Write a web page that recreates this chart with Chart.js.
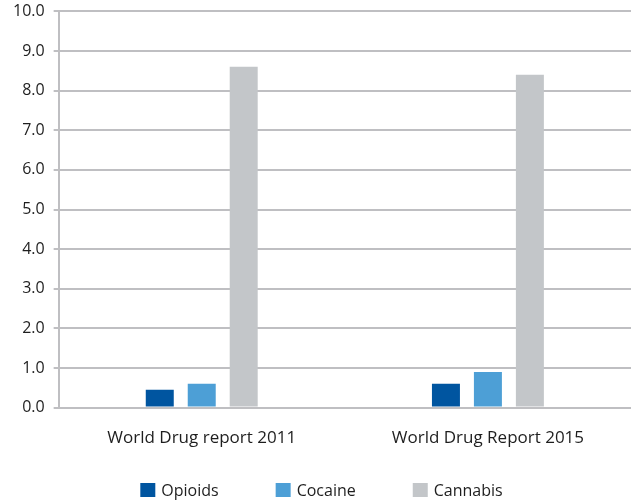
<!DOCTYPE html>
<html>
<head>
<meta charset="utf-8">
<script src="https://cdn.jsdelivr.net/npm/chart.js@4/dist/chart.umd.min.js"></script>
<style>
  html, body { margin: 0; padding: 0; background: #ffffff; }
  #wrap { width: 631px; height: 501px; position: relative; }
</style>
</head>
<body>
<div id="wrap"><canvas id="c"></canvas></div>
<script>
// Reports compared
const categories = ['World Drug report 2011', 'World Drug Report 2015'];

// Values per drug type
const opioids  = [0.45, 0.6];
const cocaine  = [0.6, 0.9];
const cannabis = [8.6, 8.4];

// Y axis range and step
const yMin = 0;
const yMax = 10;
const yStep = 1;

const gridColor = '#bfbfc2';
const textColor = '#1e1e1e';
const fontFamily = '"Open Sans", sans-serif';

// Bottom legend: square swatch + label, items spread apart with wide gaps
const legendRow = {
  id: 'legendRow',
  afterDraw(chart) {
    const ctx = chart.ctx;
    const box = 15, boxH = 14, textGap = 6, itemGap = 57;
    const cy = 490;
    ctx.save();
    ctx.font = '16px ' + fontFamily;
    ctx.textBaseline = 'middle';
    ctx.textAlign = 'left';
    const items = chart.data.datasets.map(ds => ({
      label: ds.label, color: ds.backgroundColor,
      w: box + textGap + ctx.measureText(ds.label).width
    }));
    const total = items.reduce((s, it) => s + it.w, 0) + itemGap * (items.length - 1);
    let x = chart.width / 2 + 6 - total / 2;
    items.forEach(it => {
      ctx.fillStyle = it.color;
      ctx.fillRect(x, cy - boxH / 2, box, boxH);
      ctx.fillStyle = textColor;
      ctx.fillText(it.label, x + box + textGap, cy + 1);
      x += it.w + itemGap;
    });
    ctx.restore();
  }
};

new Chart(document.getElementById('c'), {
  type: 'bar',
  data: {
    labels: categories,
    datasets: [
      { label: 'Opioids',  data: opioids,  backgroundColor: '#0055a0' },
      { label: 'Cocaine',  data: cocaine,  backgroundColor: '#4d9fd6' },
      { label: 'Cannabis', data: cannabis, backgroundColor: '#c3c6c9' }
    ]
  },
  plugins: [legendRow],
  options: {
    responsive: true,
    maintainAspectRatio: false,
    animation: false,
    datasets: { bar: { categoryPercentage: 0.44, barPercentage: 0.667 } },
    layout: { padding: { top: 0, left: 4, right: 0, bottom: 41 } },
    plugins: {
      legend: { display: false },
      tooltip: { enabled: false }
    },
    scales: {
      x: {
        grid: { display: false },
        border: { display: true, color: gridColor, width: 2 },
        ticks: { color: textColor, padding: 12, font: { family: fontFamily, size: 17 } }
      },
      y: {
        min: yMin,
        max: yMax,
        ticks: {
          stepSize: yStep,
          color: textColor,
          padding: 9,
          font: { family: fontFamily, size: 16, lineHeight: 0.3 },
          callback: v => Number(v).toFixed(1)
        },
        grid: { color: gridColor, lineWidth: 2, tickLength: 5, drawTicks: true },
        border: { display: true, color: gridColor, width: 2 }
      }
    }
  }
});
</script>
</body>
</html>
